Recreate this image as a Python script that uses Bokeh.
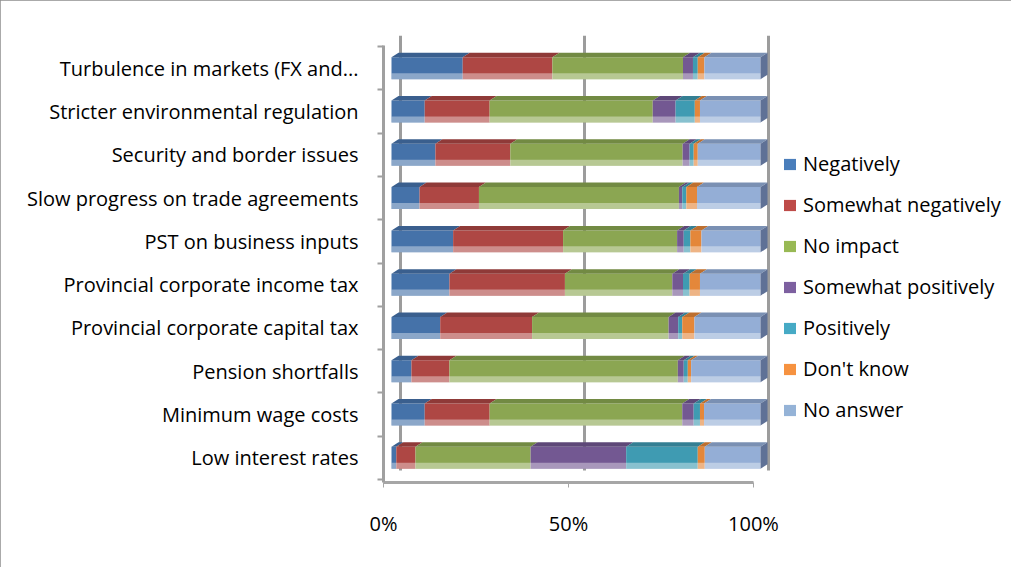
from bokeh.plotting import figure
from bokeh.models import Range1d, LinearAxis, FixedTicker, Legend, LegendItem, Grid, ColumnDataSource
from bokeh.embed import file_html
from bokeh.resources import INLINE

# ---------------- data (top row first) ----------------
categories = [
    "Turbulence in markets (FX and...",
    "Stricter environmental regulation",
    "Security and border issues",
    "Slow progress on trade agreements",
    "PST on business inputs",
    "Provincial corporate income tax",
    "Provincial corporate capital tax",
    "Pension shortfalls",
    "Minimum wage costs",
    "Low interest rates",
]
series_names = ["Negatively", "Somewhat negatively", "No impact", "Somewhat positively",
                "Positively", "Don't know", "No answer"]
negatively          = [19.3,  9.0, 11.9,  7.6, 16.7, 15.7, 13.2,  5.4,  9.0,  1.3]
somewhat_negatively = [24.3, 17.6, 20.3, 16.1, 29.8, 31.3, 24.9, 10.3, 17.6,  5.2]
no_impact           = [35.4, 44.2, 46.7, 54.2, 30.9, 29.1, 37.0, 61.9, 52.2, 31.2]
somewhat_positively = [ 2.7,  6.2,  1.9,  0.9,  1.8,  2.9,  2.6,  1.6,  3.1, 25.9]
positively          = [ 1.3,  5.2,  1.1,  1.1,  1.8,  1.8,  1.1,  1.1,  1.7, 19.4]
dont_know           = [ 1.8,  1.4,  1.1,  2.9,  3.0,  2.8,  3.3,  0.9,  1.1,  1.9]
no_answer           = [15.2, 16.4, 17.0, 17.2, 16.0, 16.4, 17.9, 18.8, 15.3, 15.1]
x_ticks = [0, 50, 100]

series_values = [negatively, somewhat_negatively, no_impact, somewhat_positively,
                 positively, dont_know, no_answer]

# ---------------- style ----------------
front_colors = ["#4572A9", "#AE4744", "#8BA652", "#735892", "#3F9BB2", "#E4873A", "#94AED6"]
top_colors   = ["#3A5F8E", "#8F3A38", "#728A43", "#5E4878", "#347F93", "#BD6F2F", "#7A90B3"]
legend_colors = ["#4A7EBB", "#BE4B48", "#98B954", "#7D60A0", "#46AAC5", "#F69240", "#95B3D7"]
side_color = "#5F7196"
FONT = "Open Sans"

n = len(categories)
ypos = [n - 1 - i for i in range(n)]  # top row highest
totals = [sum(s[i] for s in series_values) for i in range(n)]
pct = [[s[i] / totals[i] * 100.0 for i in range(n)] for s in series_values]

p = figure(width=1011, height=567, output_backend="svg", toolbar_location=None,
           x_range=Range1d(-2.168, 166.40), y_range=Range1d(-0.573, 9.758),
           x_axis_location=None, min_border_left=383, min_border_right=6,
           min_border_top=35, min_border_bottom=85)
p.outline_line_color = None
p.grid.visible = False
p.background_fill_color = "white"
p.border_fill_color = "white"
p.styles = {"outline": "1px solid #8e8e8e", "outline-offset": "-1px"}

p.extra_x_ranges = {"axis": Range1d(0, 168.11), "grid": Range1d(-4.62, 164.40)}

# back-wall gridlines
grid = Grid(dimension=0, ticker=FixedTicker(ticks=x_ticks), x_range_name="grid",
            grid_line_color="#9c9c9c", grid_line_width=3, cross_bounds=(-0.3, 9.758))
p.add_layout(grid)

# x axis on the floor
xaxis = LinearAxis(x_range_name="axis", ticker=FixedTicker(ticks=x_ticks), bounds=(0, 100))
xaxis.major_label_overrides = {t: f"{t}%" for t in x_ticks}
xaxis.axis_line_color = "#a6a6a6"
xaxis.axis_line_width = 3
xaxis.major_tick_line_color = "#a6a6a6"
xaxis.major_tick_out = 5
xaxis.major_tick_in = 0
xaxis.minor_tick_line_color = None
xaxis.major_label_standoff = 22
xaxis.major_label_text_font = FONT
xaxis.major_label_text_font_size = "20px"
xaxis.major_label_text_color = "#000000"
p.add_layout(xaxis, "below")

# y axis
yaxis = p.yaxis[0]
yaxis.ticker = FixedTicker(ticks=ypos, minor_ticks=[k - 0.5 for k in range(n + 1)])
yaxis.major_label_overrides = {ypos[i]: categories[i] for i in range(n)}
yaxis.bounds = (-0.573, 9.52)
yaxis.axis_line_color = "#a0a0a0"
yaxis.axis_line_width = 3
yaxis.major_tick_out = 0
yaxis.major_tick_in = 0
yaxis.minor_tick_out = 6
yaxis.minor_tick_in = 0
yaxis.minor_tick_line_color = "#a0a0a0"
yaxis.minor_tick_line_width = 2
yaxis.major_label_standoff = 19
yaxis.major_label_text_font = FONT
yaxis.major_label_text_font_size = "20px"
yaxis.major_label_text_color = "#000000"

# ---------------- bars (3D-look stacked) ----------------
h = 0.508          # front face height (category units)
ddx = 1.9          # depth offset in x (percent units)
ddy = 0.104        # depth offset in y (category units)
strip = 0.139      # light lower strip

left = [0.0] * n
for k, name in enumerate(series_names):
    right = [left[i] + pct[k][i] for i in range(n)]
    src = ColumnDataSource(dict(y=ypos, left=left, right=right))
    p.hbar(y="y", left="left", right="right", height=h, source=src,
           fill_color=front_colors[k], line_color=None)
    xs = [[left[i], right[i], right[i] + ddx, left[i] + ddx] for i in range(n)]
    ys = [[ypos[i] + h / 2, ypos[i] + h / 2, ypos[i] + h / 2 + ddy, ypos[i] + h / 2 + ddy]
          for i in range(n)]
    p.patches(xs=xs, ys=ys, fill_color=top_colors[k], line_color=None)
    left = right

# right side faces
side_xs = [[left[i], left[i], left[i] + ddx, left[i] + ddx] for i in range(n)]
side_ys = [[ypos[i] - h / 2, ypos[i] + h / 2, ypos[i] + h / 2 + ddy, ypos[i] - h / 2 + ddy]
           for i in range(n)]
p.patches(xs=side_xs, ys=side_ys, fill_color=side_color, line_color=None)

# light lower strip
p.hbar(y=[y - h / 2 + strip / 2 for y in ypos], left=[0.0] * n, right=left, height=strip,
       fill_color="white", fill_alpha=0.38, line_color=None)

# ---------------- legend ----------------
items = []
for k, name in enumerate(series_names):
    lr = p.hbar(y=[0], left=[0], right=[0], height=0, fill_color=legend_colors[k],
                line_color=None)
    items.append(LegendItem(label=name, renderers=[lr]))

legend = Legend(items=items, location=(399, 59), orientation="vertical",
                padding=0, margin=0, spacing=14, label_height=20, glyph_height=14,
                glyph_width=15, label_standoff=6, border_line_color=None,
                background_fill_alpha=0, label_text_font=FONT,
                label_text_font_size="20px", label_text_color="#000000")
p.add_layout(legend)

open("out.html", "w").write(file_html(p, INLINE))
